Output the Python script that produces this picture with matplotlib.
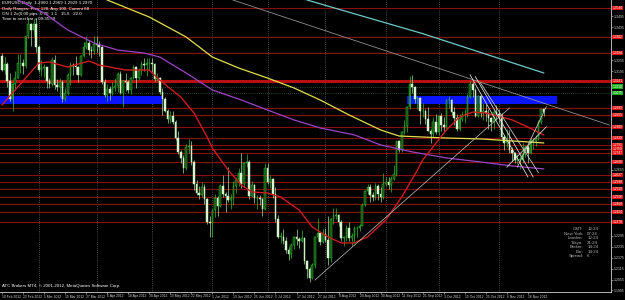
import numpy as np
import pandas as pd
import matplotlib
matplotlib.use("Agg")
import matplotlib.pyplot as plt
import matplotlib.transforms as mtransforms

plt.rcParams["font.family"] = ["Liberation Sans", "DejaVu Sans"]

# EURUSD daily bars, 10 Feb 2012 .. 26 Nov 2012 (prices x 10000)
dates = pd.bdate_range("2012-02-10", "2012-11-26")

opens = [13275, 13200, 13235, 13140, 13045, 13125, 13160, 13240, 13240, 13225, 13385, 13450, 13420, 13455,
         13325, 13200, 13210, 13215, 13140, 13125, 13255, 13120, 13110, 13135, 13045, 13075, 13175, 13230,
         13225, 13220, 13175, 13275, 13325, 13350, 13310, 13305,
         13345, 13340, 13325, 13135, 13065, 13095, 13075, 13100, 13115, 13180, 13075, 13140, 13135, 13090,
         13155, 13220, 13160, 13195, 13235, 13230, 13240,
         13240, 13235, 13150, 13155, 13080, 13045, 12975, 12935, 12950, 12915, 12830, 12750, 12720, 12665,
         12780, 12785, 12700, 12580, 12530, 12515, 12560, 12495, 12370,
         12365, 12435, 12500, 12455, 12565, 12520, 12510, 12490, 12500, 12565, 12600, 12640, 12575, 12690,
         12700, 12510, 12570, 12500, 12500, 12495, 12440,
         12665, 12590, 12605, 12525, 12385, 12290, 12290, 12265, 12215, 12195, 12245, 12290, 12275, 12265,
         12280, 12155, 12115, 12065, 12135, 12285, 12310, 12260,
         12305, 12270, 12170, 12385, 12405, 12410, 12370, 12280, 12290, 12335, 12280, 12295, 12335, 12335,
         12350, 12460, 12540, 12560, 12515, 12505, 12565, 12525, 12505,
         12575, 12590, 12570, 12605, 12630, 12815, 12765, 12860, 12895, 13000, 13125, 13110, 13045, 13050,
         12975, 12975, 12935, 12870, 12850, 12915,
         12860, 12950, 12900, 12890, 13035, 13035, 12970, 12940, 12880, 12935, 12955, 12955, 13055, 13125,
         13090, 12950, 13060, 12965, 12975, 12965, 12940, 12915, 12970,
         12960, 12945, 12835, 12800, 12810, 12765, 12745, 12710, 12710, 12710, 12740, 12780, 12745, 12810,
         12815, 12825, 12915, 12985]
highs = [13292, 13270, 13245, 13185, 13130, 13195, 13290, 13290, 13260, 13385, 13486, 13460, 13480, 13485,
         13340, 13255, 13235, 13220, 13160, 13270, 13285, 13150, 13160, 13145, 13100, 13185, 13245, 13240,
         13280, 13225, 13285, 13355, 13385, 13365, 13335, 13385,
         13385, 13360, 13330, 13150, 13125, 13115, 13135, 13160, 13190, 13195, 13145, 13185, 13145, 13165,
         13230, 13225, 13210, 13250, 13265, 13265, 13265,
         13265, 13240, 13185, 13165, 13100, 13055, 12990, 12975, 12975, 12930, 12870, 12765, 12735, 12795,
         12825, 12815, 12710, 12600, 12565, 12590, 12575, 12500, 12405,
         12440, 12520, 12510, 12575, 12625, 12535, 12670, 12525, 12595, 12615, 12665, 12745, 12700, 12740,
         12710, 12595, 12580, 12515, 12515, 12500, 12692,
         12690, 12625, 12610, 12560, 12410, 12315, 12330, 12290, 12235, 12255, 12295, 12330, 12290, 12325,
         12285, 12160, 12125, 12145, 12295, 12390, 12315, 12330,
         12335, 12405, 12390, 12445, 12445, 12415, 12380, 12295, 12355, 12370, 12310, 12345, 12345, 12360,
         12475, 12545, 12580, 12575, 12535, 12585, 12580, 12560, 12635,
         12615, 12615, 12620, 12680, 12815, 12820, 12870, 12930, 13005, 13170, 13172, 13115, 13060, 13055,
         13020, 12985, 13000, 12880, 12945, 12960,
         12955, 12965, 12945, 13045, 13060, 13040, 13000, 12960, 12960, 12975, 12985, 13070, 13140, 13135,
         13105, 13065, 13065, 13020, 13015, 12985, 12945, 12990, 13010,
         12990, 12965, 12845, 12880, 12875, 12780, 12755, 12740, 12730, 12800, 12790, 12790, 12830, 12830,
         12845, 12925, 12990, 12995]
lows = [13195, 13180, 13110, 13030, 12975, 13090, 13155, 13185, 13180, 13210, 13375, 13335, 13385, 13300,
        13190, 13170, 13165, 13105, 13100, 13115, 13095, 13085, 13055, 13026, 13030, 13065, 13120, 13175,
        13180, 13135, 13170, 13270, 13315, 13285, 13265, 13290,
        13300, 13275, 13125, 13055, 13030, 13035, 13065, 13085, 13080, 13070, 13000, 13085, 13075, 13070,
        13150, 13105, 13145, 13175, 13195, 13170, 13200,
        13185, 13140, 13140, 13070, 12955, 12970, 12910, 12910, 12905, 12820, 12740, 12695, 12640, 12655,
        12745, 12680, 12545, 12515, 12495, 12505, 12470, 12360, 12285,
        12288, 12395, 12400, 12450, 12505, 12425, 12480, 12440, 12465, 12530, 12565, 12555, 12560, 12670,
        12495, 12505, 12475, 12440, 12460, 12405, 12435,
        12580, 12555, 12500, 12370, 12280, 12255, 12250, 12200, 12160, 12170, 12220, 12245, 12230, 12260,
        12140, 12065, 12042, 12060, 12120, 12265, 12245, 12255,
        12260, 12133, 12150, 12360, 12385, 12345, 12265, 12240, 12265, 12265, 12240, 12255, 12285, 12320,
        12345, 12455, 12525, 12480, 12485, 12490, 12490, 12480, 12495,
        12565, 12550, 12535, 12600, 12620, 12755, 12755, 12850, 12860, 12985, 13075, 13020, 12985, 12905,
        12945, 12905, 12865, 12800, 12835, 12850,
        12845, 12870, 12865, 12880, 12995, 12955, 12900, 12870, 12865, 12920, 12910, 12945, 13050, 13055,
        12945, 12945, 12945, 12925, 12920, 12880, 12870, 12880, 12935,
        12910, 12825, 12765, 12780, 12745, 12705, 12695, 12685, 12660, 12690, 12725, 12695, 12740, 12770,
        12785, 12820, 12905, 12950]
closes = [13200, 13235, 13140, 13045, 13125, 13160, 13240, 13240, 13225, 13385, 13450, 13420, 13455, 13325,
          13200, 13210, 13215, 13140, 13125, 13255, 13120, 13110, 13135, 13045, 13075, 13175, 13230, 13225,
          13220, 13175, 13275, 13325, 13350, 13310, 13305, 13345,
          13340, 13325, 13135, 13065, 13095, 13075, 13100, 13115, 13180, 13075, 13140, 13135, 13090, 13155,
          13220, 13160, 13195, 13235, 13230, 13240, 13240,
          13235, 13150, 13155, 13080, 13045, 12975, 12935, 12950, 12915, 12830, 12750, 12720, 12665, 12780,
          12785, 12700, 12580, 12530, 12515, 12560, 12495, 12370, 12365,
          12435, 12500, 12455, 12565, 12520, 12510, 12490, 12500, 12565, 12600, 12640, 12575, 12690, 12700,
          12510, 12570, 12500, 12500, 12495, 12440, 12665,
          12590, 12605, 12525, 12385, 12290, 12290, 12265, 12215, 12195, 12245, 12290, 12275, 12265, 12280,
          12155, 12115, 12065, 12135, 12285, 12310, 12260, 12305,
          12270, 12170, 12385, 12405, 12410, 12370, 12280, 12290, 12335, 12280, 12295, 12335, 12335, 12350,
          12460, 12540, 12560, 12515, 12505, 12565, 12525, 12505, 12575,
          12590, 12570, 12605, 12630, 12815, 12765, 12860, 12895, 13000, 13125, 13110, 13045, 13050, 12975,
          12975, 12935, 12870, 12850, 12915, 12860,
          12950, 12900, 12890, 13035, 13035, 12970, 12940, 12880, 12935, 12955, 12955, 13055, 13125, 13090,
          12950, 13060, 12965, 12975, 12965, 12940, 12915, 12970, 12960,
          12945, 12835, 12800, 12810, 12765, 12745, 12710, 12710, 12710, 12740, 12780, 12745, 12810, 12815,
          12825, 12915, 12985, 12970]

# moving averages (bar index, price)
red_ma_idx = [0, 14, 18, 25, 33, 37, 47, 56, 60, 68, 73, 78, 80, 86, 91, 95, 101, 106, 113, 118, 124, 129,
              134, 139, 146, 152, 158, 160, 169, 174, 179, 184, 190, 194, 200, 206]
red_ma_val = [1.3010, 1.3239, 1.3245, 1.3217, 1.3250, 1.3228, 1.3201, 1.3201, 1.3146, 1.3053, 1.2966,
              1.2835, 1.2774, 1.2654, 1.2572, 1.2534, 1.2528, 1.2506, 1.2435, 1.2342, 1.2288, 1.2255,
              1.2255, 1.2288, 1.2381, 1.2506, 1.2654, 1.2709, 1.2873, 1.2944, 1.2971, 1.2966, 1.2944,
              1.2928, 1.2889, 1.2846]
yel_ma_idx = [37, 40, 56, 70, 80, 90, 101, 111, 121, 132, 144, 151, 169, 182, 194, 206]
yel_ma_val = [1.3620, 1.3584, 1.3491, 1.3382, 1.3272, 1.3212, 1.3157, 1.3103, 1.3037, 1.2955, 1.2873,
              1.2840, 1.2829, 1.2824, 1.2813, 1.2802]
pur_ma_idx = [0, 6, 16, 25, 35, 44, 54, 60, 70, 80, 91, 101, 111, 121, 134, 144, 156, 169, 182, 194, 206]
pur_ma_val = [1.3640, 1.3584, 1.3513, 1.3420, 1.3349, 1.3310, 1.3294, 1.3272, 1.3185, 1.3092, 1.3037,
              1.2982, 1.2928, 1.2884, 1.2846, 1.2791, 1.2753, 1.2720, 1.2698, 1.2676, 1.2660]
cyan_idx = [116, 160, 206]
cyan_val = [1.3584, 1.3400, 1.3185]

# trendlines (bar index pairs, price pairs)
trend_lines = [
    ((87.8, 231.0), (1.3584, 1.2900), "#9a9a9a"),
    ((119.0, 193.0), (1.2052, 1.2993), "#b4b4b4"),
    ((178.0, 200.0), (1.3175, 1.2616), "#e8e8e8"),
    ((180.0, 202.0), (1.3165, 1.2616), "#e8e8e8"),
    ((182.0, 204.0), (1.3130, 1.2640), "#d0d0d0"),
    ((192.0, 207.0), (1.2670, 1.2890), "#e0e0e0"),
    ((196.0, 207.0), (1.2670, 1.3000), "#d0d0d0"),
]

# horizontal levels
levels = [1.3540, 1.3382, 1.3294, 1.2993, 1.2955, 1.2889, 1.2829, 1.2791, 1.2769, 1.2747,
          1.2698, 1.2627, 1.2588, 1.2550, 1.2506, 1.2468, 1.2424, 1.2370]
thick_level = 1.3141
dotted_levels = [1.3110, 1.3075]
blue_zones = [(-1, 61), (154, 211)]
blue_low, blue_high = 1.3015, 1.3059
month_starts = ["2012-03-01", "2012-04-02", "2012-05-01", "2012-06-01", "2012-07-02",
                "2012-08-01", "2012-09-03", "2012-10-01", "2012-11-01"]

info_lines = ["EURUSD,Daily  1.2960 1.2969 1.2929 1.2970",
              "Daily Ranges: Prev 128, Avg 100, Current 68",
              "ON 1.2x(0.00 pips: 0.70  1.1   15.6   22.0",
              "Time to next bar = 09:35:59"]
clock_names = ["GMT:", "New York:", "London:", "Tokyo:", "Broker:", "Bar:", "Spread:"]
clock_vals = ["12:24", "07:24", "12:24", "21:24", "14:24", "14:24", "6"]

o = np.array(opens) / 1e4
h = np.array(highs) / 1e4
l = np.array(lows) / 1e4
c = np.array(closes) / 1e4
x = np.arange(len(dates))

fig = plt.figure(figsize=(6.25, 3.0), dpi=100, facecolor="black")
ax = fig.add_axes([0, 8 / 300, 611 / 625, 292 / 300], facecolor="black")
ax.set_xlim(-0.76, 231.6)
ax.set_ylim(1.3584 - 292 / 1828, 1.3584)

# month separators
for d in month_starts:
    i = dates.get_loc(pd.Timestamp(d))
    ax.axvline(i, color="#8a8a8a", lw=0.5, ls=(0, (1, 2)), zorder=1)

# levels
for lv in levels:
    ax.axhline(lv, color="#8b0d0d", lw=0.8, zorder=1)
ax.axhline(thick_level, color="#b81010", lw=2.2, zorder=1)
for lv in dotted_levels:
    ax.axhline(lv, color="#4a8a4a", lw=0.5, ls=(0, (1, 2)), zorder=1)
for a, b in blue_zones:
    ax.fill_between([a, b], blue_low, blue_high, color="#0a14ff", lw=0, zorder=2)

# candles
up = c >= o
wick_col = np.where(up, "#2fbf2f", "#9fe09f")
ax.vlines(x, l, h, colors=wick_col, lw=0.5, zorder=3)
body_lo = np.minimum(o, c)
body_h = np.maximum(np.abs(c - o), 0.00015)
ax.bar(x[up], body_h[up], bottom=body_lo[up], width=0.62, color="#0e4a0e",
       edgecolor="#36c436", lw=0.35, zorder=4)
ax.bar(x[~up], body_h[~up], bottom=body_lo[~up], width=0.62, color="#e4f7dc",
       edgecolor="#b8ebb0", lw=0.35, zorder=4)

# moving averages
ax.plot(cyan_idx, cyan_val, color="#6fc9c9", lw=0.9, zorder=5)
ax.plot(pur_ma_idx, pur_ma_val, color="#9b45c8", lw=0.9, zorder=5)
ax.plot(yel_ma_idx, yel_ma_val, color="#e3df4a", lw=0.9, zorder=5)
ax.plot(red_ma_idx, red_ma_val, color="#d01c1c", lw=1.0, zorder=5)
for xs, ys, col in trend_lines:
    ax.plot(xs, ys, color=col, lw=0.55, zorder=6)

# axes styling
for s in ["top", "left"]:
    ax.spines[s].set_visible(False)
for s in ["right", "bottom"]:
    ax.spines[s].set_color("#d0d0d0")
    ax.spines[s].set_linewidth(0.6)
ax.yaxis.tick_right()
all_marks = levels + [thick_level] + dotted_levels
yt = [v for v in np.arange(1.1995, 1.3580, 0.0060) if min(abs(v - m) for m in all_marks) > 0.0028]
ax.set_yticks(yt)
ax.set_yticklabels(["%.4f" % v for v in yt])
ax.tick_params(axis="y", colors="#d0d0d0", labelsize=2.5, length=1.2, width=0.4, pad=0.8)
xt = x[::8]
ax.set_xticks(xt)
ax.set_xticklabels(["%d %s" % (d.day, d.strftime("%b %Y")) for d in dates[::8]], ha="left")
ax.tick_params(axis="x", colors="#d0d0d0", labelsize=2.4, length=1.2, width=0.4, pad=0.6)

# level labels on the price axis
trans = mtransforms.blended_transform_factory(ax.transAxes, ax.transData)
for lv in levels + [thick_level]:
    ax.text(1.003, lv, "%.4f" % lv, transform=trans, fontsize=2.3, color="white", va="center",
            ha="left", bbox=dict(boxstyle="square,pad=0.12", fc="#e01010", ec="none"), clip_on=False)
for lv in dotted_levels:
    ax.text(1.003, lv, "%.4f" % lv, transform=trans, fontsize=2.3, color="white", va="center",
            ha="left", bbox=dict(boxstyle="square,pad=0.12", fc="#18b018", ec="none"), clip_on=False)

# texts
for k, t in enumerate(info_lines):
    ax.text(0.004, 0.995 - k * 0.018, t, transform=ax.transAxes, fontsize=3.2, color="white",
            va="top", ha="left")
ax.text(0.004, 0.012, "ATC Brokers MT4, \u00a9 2001-2012, MetaQuotes Software Corp.",
        transform=ax.transAxes, fontsize=3.2, color="white", va="bottom", ha="left")
for k, (nm, vl) in enumerate(zip(clock_names, clock_vals)):
    yy = 0.215 - k * 0.0155
    ax.text(0.955, yy, nm, transform=ax.transAxes, fontsize=3.2, color="#b0b0b0", ha="right", va="center")
    ax.text(0.961, yy, vl, transform=ax.transAxes, fontsize=3.2, color="#b0b0b0", ha="left", va="center")

fig.savefig("out.png", dpi=100, facecolor="black")
